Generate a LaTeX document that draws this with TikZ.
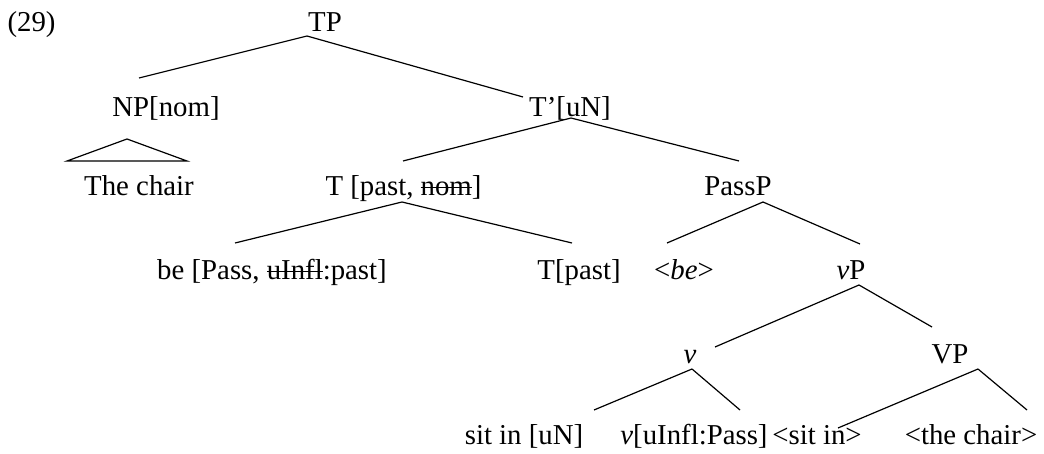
\documentclass[tikz,border=0pt]{standalone}
\usepackage{fontspec}
\setmainfont{Liberation Serif}

% struck-out feature
\newcommand\struck[1]{\setbox0\hbox{#1}\rlap{\rule[0.28em]{\wd0}{0.045em}}\box0}

\begin{document}
\begin{tikzpicture}[x=0.5pt,y=-0.5pt,semithick,
    every node/.style={anchor=base,inner sep=0pt,font=\fontsize{14.4}{17}\selectfont}]
  \useasboundingbox (0,0) rectangle (1044,454);
  \node[anchor=base west] (ex) at (7,32) {(29)};

  % TP -> NP, T'
  \node (TP) at (325,32) {TP};
  \node (NP) at (166,117) {NP[nom]};
  \node (Tbar) at (570,117) {T'[uN]};
  \coordinate (tp) at (307,36);
  \coordinate (np) at (139,78);
  \coordinate (tbar) at (523,97);
  \draw (tp) -- (np);
  \draw (tp) -- (tbar);

  % subject, roof
  \node (chair) at (139,196) {The chair};
  \coordinate (roof) at (127,139);
  \coordinate (roofL) at (67,161);
  \coordinate (roofR) at (187,161);
  \draw (roofL) -- (roof) -- (roofR) -- cycle;

  % T' -> T, PassP
  \node (T) at (403.5,196) {T [past, \struck{nom}]};
  \node (PassP) at (738,196) {PassP};
  \coordinate (tb) at (571,118);
  \coordinate (t) at (403,161);
  \coordinate (pass) at (739,161);
  \draw (tb) -- (t);
  \draw (tb) -- (pass);

  % T -> be, T
  \node (be) at (272,280) {be [Pass, \struck{uInfl}:past]};
  \node (Tpast) at (579,280) {T[past]};
  \coordinate (th) at (402,202);
  \coordinate (beL) at (235,243);
  \coordinate (tR) at (572,243);
  \draw (th) -- (beL);
  \draw (th) -- (tR);

  % PassP -> <be>, vP
  \node (beTrace) at (684,280) {<\textit{be}>};
  \node (vP) at (851,280) {\textit{v}P};
  \coordinate (pp) at (763,202);
  \coordinate (bt) at (667,243);
  \coordinate (vp) at (860,244);
  \draw (pp) -- (bt);
  \draw (pp) -- (vp);

  % vP -> v, VP
  \node (v) at (690,363) {\textit{v}};
  \node (VP) at (950,363) {VP};
  \coordinate (vph) at (859,285);
  \coordinate (vL) at (715,347);
  \coordinate (VPR) at (932,327);
  \draw (vph) -- (vL);
  \draw (vph) -- (VPR);

  % v -> sit in, v
  \node (sitin) at (524,444) {sit in [uN]};
  \node (vhead) at (694,444) {\textit{v}[uInfl:Pass]};
  \coordinate (vh) at (692,369);
  \coordinate (siL) at (594,410);
  \coordinate (vhR) at (740,410);
  \draw (vh) -- (siL);
  \draw (vh) -- (vhR);

  % VP -> traces
  \node (sitTrace) at (817,444) {<sit in>};
  \node (chairTrace) at (971,444) {<the chair>};
  \coordinate (vpp) at (978,369);
  \coordinate (stL) at (838,428);
  \coordinate (ctR) at (1027,410);
  \draw (vpp) -- (stL);
  \draw (vpp) -- (ctR);
\end{tikzpicture}
\end{document}
